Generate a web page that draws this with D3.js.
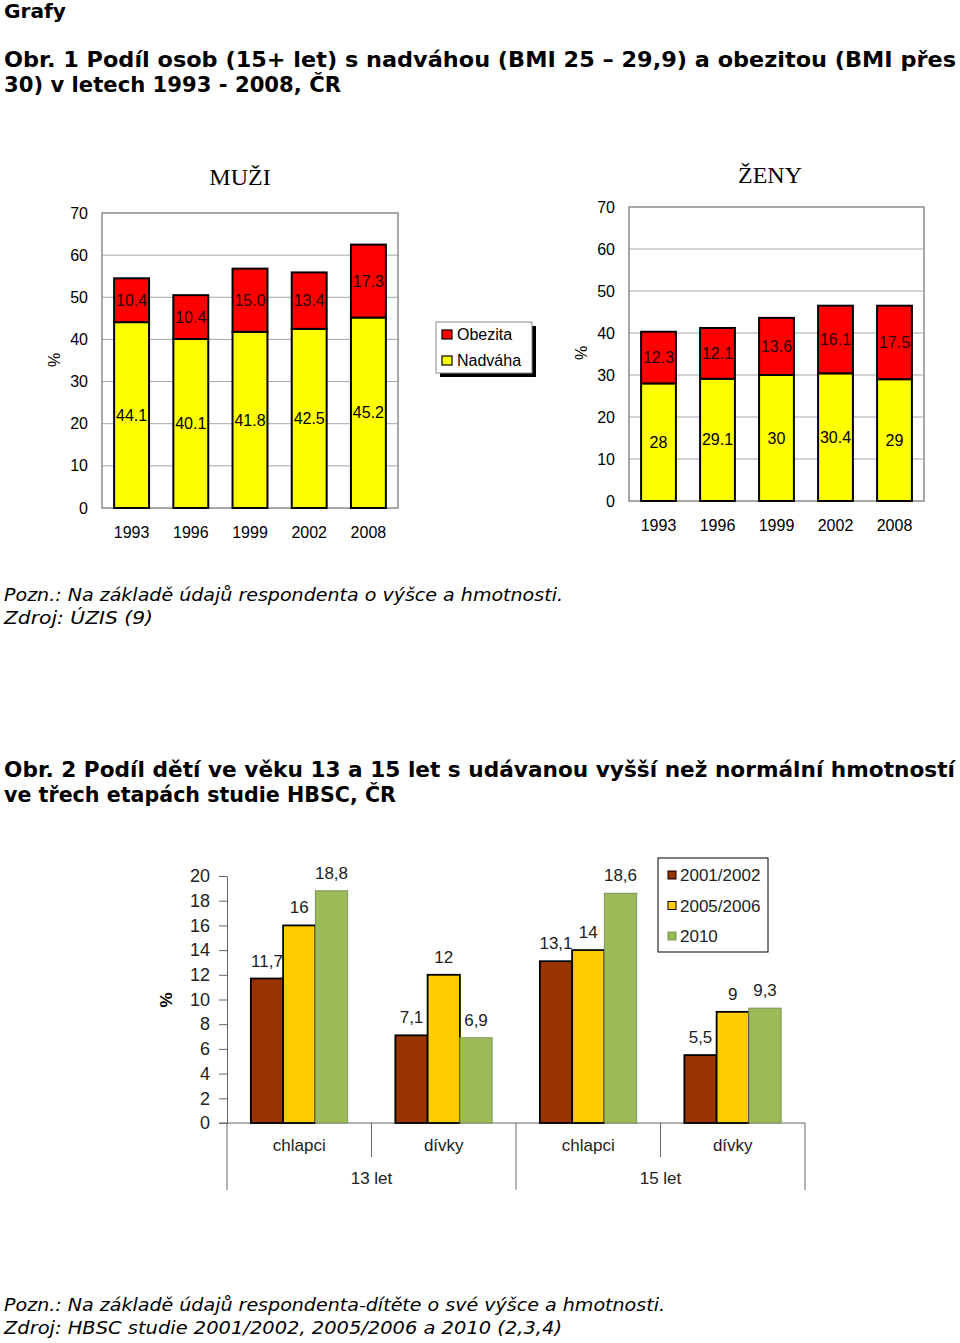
<!DOCTYPE html>
<html>
<head>
<meta charset="utf-8">
<script src="https://cdn.jsdelivr.net/npm/d3@7"></script>
<style>
  body { margin: 0; background: #fff; }
  svg { display: block; }
</style>
</head>
<body>
<script>
// data - obr. 1
var years = ["1993", "1996", "1999", "2002", "2008"];
var muziNadvaha = [44.1, 40.1, 41.8, 42.5, 45.2];
var muziObezita = [10.4, 10.4, 15.0, 13.4, 17.3];
var zenyNadvaha = [28, 29.1, 30, 30.4, 29];
var zenyObezita = [12.3, 12.1, 13.6, 16.1, 17.5];
var ticks1 = [0, 10, 20, 30, 40, 50, 60, 70];

// data - obr. 2
var ages = ["13 let", "15 let"];
var groups = ["chlapci", "dívky", "chlapci", "dívky"];
var periods = ["2001/2002", "2005/2006", "2010"];
var hbsc2001 = [11.7, 7.1, 13.1, 5.5];
var hbsc2005 = [16, 12, 14, 9];
var hbsc2010 = [18.8, 6.9, 18.6, 9.3];
var ticks2 = [0, 2, 4, 6, 8, 10, 12, 14, 16, 18, 20];

var W = 960, H = 1343;
var svg = d3.select("body").append("svg").attr("width", W).attr("height", H);
svg.append("rect").attr("width", W).attr("height", H).attr("fill", "#fff");

var arial = "Liberation Sans, Arial, sans-serif";
var verdana = "DejaVu Sans, Verdana, sans-serif";

// headings and notes (fitted to the original line widths)
function line(txt, x, y, len, opts) {
  svg.append("text")
    .attr("x", x).attr("y", y)
    .attr("font-family", verdana)
    .attr("font-size", opts.size)
    .attr("font-weight", opts.bold ? "bold" : "normal")
    .attr("font-style", opts.italic ? "italic" : "normal")
    .attr("textLength", len)
    .attr("lengthAdjust", "spacingAndGlyphs")
    .text(txt);
}
line("Grafy", 4, 18, 62, {size: 19, bold: true});
line("Obr. 1 Podíl osob (15+ let) s nadváhou (BMI 25 – 29,9) a obezitou (BMI přes", 4, 67, 952, {size: 20.5, bold: true});
line("30) v letech 1993 - 2008, ČR", 4, 92, 337, {size: 20.5, bold: true});
line("Pozn.: Na základě údajů respondenta o výšce a hmotnosti.", 4, 601, 559, {size: 18, italic: true});
line("Zdroj: ÚZIS (9)", 4, 624, 149, {size: 18, italic: true});
line("Obr. 2  Podíl dětí ve věku 13 a 15 let s udávanou vyšší než normální hmotností", 4, 777, 951, {size: 20.5, bold: true});
line("ve třech etapách studie HBSC, ČR", 4, 802, 392, {size: 20.5, bold: true});
line("Pozn.: Na základě údajů respondenta-dítěte o své výšce a hmotnosti.", 4, 1311, 661, {size: 18, italic: true});
line("Zdroj: HBSC studie 2001/2002, 2005/2006 a 2010 (2,3,4)", 4, 1334, 558, {size: 18, italic: true});

// ---- obr. 1: stacked bars ----
function stacked(cfg) {
  var x = d3.scaleBand().domain(years).range([cfg.left, cfg.right])
    .paddingInner(0.41).paddingOuter(0.205);
  var y = d3.scaleLinear().domain([0, 70]).range([cfg.bottom, cfg.top]);
  var g = svg.append("g");

  g.append("text")
    .attr("x", cfg.titleX).attr("y", cfg.titleY)
    .attr("text-anchor", "middle")
    .attr("font-family", "Liberation Serif, Times New Roman, serif")
    .attr("font-size", 24)
    .text(cfg.title);

  g.selectAll(".grid").data(ticks1.slice(1, -1)).enter().append("line")
    .attr("x1", cfg.left).attr("x2", cfg.right)
    .attr("y1", function(d) { return y(d); })
    .attr("y2", function(d) { return y(d); })
    .attr("stroke", "#a6a6a6").attr("stroke-width", 1);

  g.append("rect")
    .attr("x", cfg.left).attr("y", cfg.top)
    .attr("width", cfg.right - cfg.left).attr("height", cfg.bottom - cfg.top)
    .attr("fill", "none").attr("stroke", "#8c8c8c").attr("stroke-width", 1.5);

  var ya = g.append("g").attr("transform", "translate(" + (cfg.left - 11) + ",0)")
    .call(d3.axisLeft(y).tickValues(ticks1).tickSize(0));
  ya.select(".domain").remove();
  ya.selectAll("text").attr("font-family", arial).attr("font-size", 16).attr("fill", "#000");

  var xa = g.append("g").attr("transform", "translate(0," + cfg.labelY + ")")
    .call(d3.axisBottom(x).tickSize(0));
  xa.select(".domain").remove();
  xa.selectAll("text").attr("font-family", arial).attr("font-size", 16).attr("fill", "#000");

  g.append("text")
    .attr("transform", "translate(" + cfg.pctX + "," + cfg.pctY + ") rotate(-90)")
    .attr("text-anchor", "middle")
    .attr("font-family", arial).attr("font-size", 16)
    .text("%");

  var rows = years.map(function(yr, i) {
    return {yr: yr, n: cfg.nad[i], o: cfg.obe[i]};
  });

  g.selectAll(".nad").data(rows).enter().append("rect")
    .attr("x", function(d) { return x(d.yr); })
    .attr("y", function(d) { return y(d.n); })
    .attr("width", x.bandwidth())
    .attr("height", function(d) { return y(0) - y(d.n); })
    .attr("fill", "#ffff00").attr("stroke", "#000").attr("stroke-width", 2);

  g.selectAll(".obe").data(rows).enter().append("rect")
    .attr("x", function(d) { return x(d.yr); })
    .attr("y", function(d) { return y(d.n + d.o); })
    .attr("width", x.bandwidth())
    .attr("height", function(d) { return y(d.n) - y(d.n + d.o); })
    .attr("fill", "#ff0000").attr("stroke", "#000").attr("stroke-width", 2);

  g.selectAll(".ln").data(rows).enter().append("text")
    .attr("x", function(d) { return x(d.yr) + x.bandwidth() / 2; })
    .attr("y", function(d) { return y(d.n / 2); })
    .attr("dy", "0.35em").attr("text-anchor", "middle")
    .attr("font-family", arial).attr("font-size", 16).attr("fill", "#000")
    .text(function(d) { return cfg.fmt(d.n); });

  g.selectAll(".lo").data(rows).enter().append("text")
    .attr("x", function(d) { return x(d.yr) + x.bandwidth() / 2; })
    .attr("y", function(d) { return y(d.n + d.o / 2); })
    .attr("dy", "0.35em").attr("text-anchor", "middle")
    .attr("font-family", arial).attr("font-size", 16).attr("fill", "#2a0000")
    .text(function(d) { return cfg.fmt(d.o); });
}

stacked({title: "MUŽI", titleX: 240, titleY: 185, left: 102, right: 398, top: 213, bottom: 508,
  labelY: 524, pctX: 60, pctY: 360, nad: muziNadvaha, obe: muziObezita, fmt: d3.format(".1f")});
stacked({title: "ŽENY", titleX: 770, titleY: 183, left: 629, right: 924, top: 207, bottom: 501,
  labelY: 517, pctX: 587, pctY: 353, nad: zenyNadvaha, obe: zenyObezita, fmt: String});

// legend obr. 1
var leg1 = svg.append("g");
leg1.append("rect").attr("x", 440).attr("y", 326).attr("width", 96).attr("height", 51).attr("fill", "#000");
leg1.append("rect").attr("x", 436).attr("y", 322).attr("width", 96).attr("height", 51)
  .attr("fill", "#fff").attr("stroke", "#8c8c8c").attr("stroke-width", 1);
var legItems1 = [{name: "Obezita", color: "#ff0000"}, {name: "Nadváha", color: "#ffff00"}];
leg1.selectAll(".sw").data(legItems1).enter().append("rect")
  .attr("x", 442).attr("y", function(d, i) { return 330 + i * 26; })
  .attr("width", 10).attr("height", 9)
  .attr("fill", function(d) { return d.color; }).attr("stroke", "#000").attr("stroke-width", 1.2);
leg1.selectAll(".lt").data(legItems1).enter().append("text")
  .attr("x", 457).attr("y", function(d, i) { return 340 + i * 26; })
  .attr("font-family", arial).attr("font-size", 16)
  .text(function(d) { return d.name; });

// ---- obr. 2: grouped bars ----
var c2 = {left: 227, right: 805, top: 876, bottom: 1123};
var x0 = d3.scaleBand().domain(d3.range(groups.length)).range([c2.left, c2.right]);
var x1 = d3.scaleBand().domain(periods).range([0, x0.bandwidth()]).paddingInner(0).paddingOuter(0.74);
var y2 = d3.scaleLinear().domain([0, 20]).range([c2.bottom, c2.top]);
var colors = d3.scaleOrdinal().domain(periods).range(["#993300", "#ffcc00", "#9bbb59"]);
var strokes = d3.scaleOrdinal().domain(periods).range(["#000", "#000", "#7f8f5a"]);
var series = [hbsc2001, hbsc2005, hbsc2010];
var g2 = svg.append("g");

var ya2 = g2.append("g").attr("transform", "translate(" + c2.left + ",0)")
  .call(d3.axisLeft(y2).tickValues(ticks2).tickSize(8).tickSizeOuter(0).tickPadding(9));
ya2.select(".domain").attr("stroke", "#666");
ya2.selectAll(".tick line").attr("stroke", "#666");
ya2.selectAll("text").attr("font-family", arial).attr("font-size", 18).attr("fill", "#222");

g2.append("line").attr("x1", c2.left - 8).attr("x2", c2.right)
  .attr("y1", c2.bottom).attr("y2", c2.bottom).attr("stroke", "#666");

// category separators
var seps = d3.range(groups.length + 1);
g2.selectAll(".sep").data(seps).enter().append("line")
  .attr("x1", function(d) { return d === groups.length ? c2.right : x0(d); })
  .attr("x2", function(d) { return d === groups.length ? c2.right : x0(d); })
  .attr("y1", c2.bottom)
  .attr("y2", function(d) { return d % 2 === 0 ? 1190 : 1157; })
  .attr("stroke", "#666");

g2.selectAll(".gl").data(groups).enter().append("text")
  .attr("x", function(d, i) { return x0(i) + x0.bandwidth() / 2; })
  .attr("y", 1151).attr("text-anchor", "middle")
  .attr("font-family", arial).attr("font-size", 17).attr("fill", "#222")
  .text(function(d) { return d; });

g2.selectAll(".al").data(ages).enter().append("text")
  .attr("x", function(d, i) { return x0(i * 2 + 1); })
  .attr("y", 1184).attr("text-anchor", "middle")
  .attr("font-family", arial).attr("font-size", 17).attr("fill", "#222")
  .text(function(d) { return d; });

g2.append("text")
  .attr("transform", "translate(172,1000) rotate(-90)")
  .attr("text-anchor", "middle")
  .attr("font-family", arial).attr("font-size", 17).attr("font-weight", "bold")
  .text("%");

var bars = [];
groups.forEach(function(gr, i) {
  periods.forEach(function(p, j) {
    bars.push({gi: i, p: p, v: series[j][i]});
  });
});
var comma = function(v) { return String(v).replace(".", ","); };

g2.selectAll(".bar").data(bars).enter().append("rect")
  .attr("x", function(d) { return x0(d.gi) + x1(d.p); })
  .attr("y", function(d) { return y2(d.v); })
  .attr("width", x1.bandwidth())
  .attr("height", function(d) { return y2(0) - y2(d.v); })
  .attr("fill", function(d) { return colors(d.p); })
  .attr("stroke", function(d) { return strokes(d.p); })
  .attr("stroke-width", function(d) { return d.p === "2010" ? 1 : 1.8; });

g2.selectAll(".bl").data(bars).enter().append("text")
  .attr("x", function(d) { return x0(d.gi) + x1(d.p) + x1.bandwidth() / 2; })
  .attr("y", function(d) { return y2(d.v) - 12; })
  .attr("text-anchor", "middle")
  .attr("font-family", arial).attr("font-size", 17).attr("fill", "#222")
  .text(function(d) { return comma(d.v); });

// legend obr. 2
var leg2 = svg.append("g");
leg2.append("rect").attr("x", 658).attr("y", 858).attr("width", 110).attr("height", 94)
  .attr("fill", "#fff").attr("stroke", "#000").attr("stroke-width", 1);
leg2.selectAll(".sw").data(periods).enter().append("rect")
  .attr("x", 668).attr("y", function(d, i) { return 871 + i * 30.5; })
  .attr("width", 8).attr("height", 8)
  .attr("fill", function(d) { return colors(d); })
  .attr("stroke", function(d) { return strokes(d); }).attr("stroke-width", 1);
leg2.selectAll(".lt").data(periods).enter().append("text")
  .attr("x", 680).attr("y", function(d, i) { return 881 + i * 30.5; })
  .attr("font-family", arial).attr("font-size", 17).attr("fill", "#222")
  .text(function(d) { return d; });
</script>
</body>
</html>
